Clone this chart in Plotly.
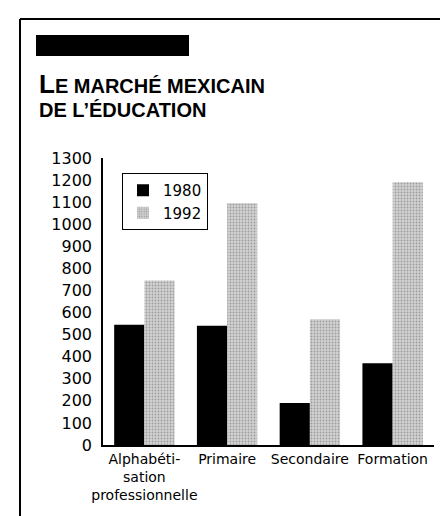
import plotly.graph_objects as go

categories = ["Alphabéti-<br>sation<br>professionnelle", "Primaire", "Secondaire", "Formation"]
values_1980 = [545, 540, 190, 370]
values_1992 = [745, 1095, 570, 1190]
tick_vals = list(range(0, 1301, 100))
series_names = ["1980", "1992"]

W, H = 448, 516
L, R, T, B = 95, 22, 150, 79
pw, ph = W - L - R, H - T - B

def px(x):
    return (x - L) / pw

def py(y):
    return (H - B - y) / ph

fig = go.Figure()
fig.add_trace(go.Bar(x=categories, y=values_1980, name=series_names[0],
                     marker=dict(color="black", line=dict(width=0))))
fig.add_trace(go.Bar(x=categories, y=values_1992, name=series_names[1],
                     marker=dict(color="#d2d2d2", line=dict(width=0),
                                 pattern=dict(shape=".", fgcolor="#666666", size=3, solidity=0.3))))

font_main = "DejaVu Sans"

fig.update_layout(
    width=W, height=H,
    margin=dict(l=L, r=R, t=T, b=B, pad=0),
    paper_bgcolor="white", plot_bgcolor="white",
    barmode="group", bargap=0.27, bargroupgap=0,
    font=dict(family=font_main, color="black", size=15),
    showlegend=True,
    legend=dict(x=px(114), y=py(165), xanchor="left", yanchor="top",
                bordercolor="black", borderwidth=1, bgcolor="white",
                font=dict(size=15, family=font_main, color="black"),
                itemwidth=30, tracegroupgap=0, itemsizing="constant"),
    xaxis=dict(showline=True, linecolor="black", linewidth=1.5, ticks="",
               showgrid=False, tickfont=dict(size=14), tickangle=0, automargin=False,
               fixedrange=True),
    yaxis=dict(range=[0, 1300], tickvals=tick_vals, showline=True, linecolor="black",
               linewidth=1.5, ticks="", showgrid=False, zeroline=False,
               tickfont=dict(size=16), ticklabelstandoff=6, automargin=False,
               fixedrange=True),
)

title_font = dict(family="Liberation Sans", size=20, color="black")
fig.add_annotation(xref="paper", yref="paper", x=px(29), y=py(76), xanchor="left", yanchor="middle",
                   text="<b><span style='font-size:26px'>L</span>E MARCHÉ MEXICAIN</b>",
                   showarrow=False, font=title_font)
fig.add_annotation(xref="paper", yref="paper", x=px(29), y=py(102), xanchor="left", yanchor="middle",
                   text="<b>DE L’ÉDUCATION</b>",
                   showarrow=False, font=title_font)

# decorative black bar and frame
fig.add_shape(type="rect", xref="paper", yref="paper", x0=px(28), x1=px(181), y0=py(48), y1=py(27),
              fillcolor="black", line=dict(width=0))
fig.add_shape(type="line", xref="paper", yref="paper", x0=px(12), x1=px(448), y0=py(11), y1=py(11),
              line=dict(color="black", width=2))
fig.add_shape(type="line", xref="paper", yref="paper", x0=px(12), x1=px(12), y0=py(11), y1=py(516),
              line=dict(color="black", width=2))

fig.write_html("out.html")
